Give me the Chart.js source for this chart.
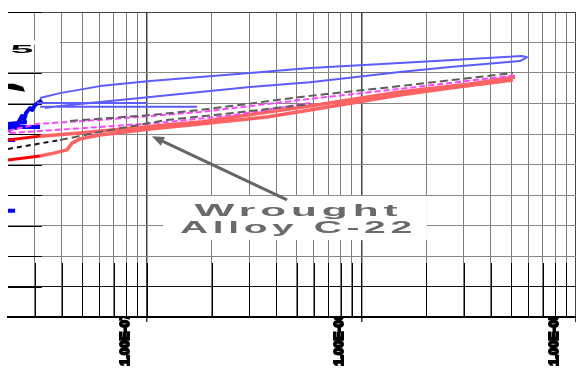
<!DOCTYPE html>
<html>
<head>
<meta charset="utf-8">
<script src="https://cdn.jsdelivr.net/npm/chart.js@4.4.1/dist/chart.umd.min.js"></script>
<style>
  html, body { margin: 0; padding: 0; background: #fff; }
  #wrap { width: 576px; height: 373px; }
</style>
</head>
<body>
<div id="wrap"><canvas id="chart" width="576" height="373"></canvas></div>
<script>
'use strict';

// x = log10(current density), y = potential (V); null breaks a line
const X_MIN = -7.648;
const X_MAX = -5;
const decadeTicks = [-7, -6, -5];
const decadeLabels = ['1.00E-07', '1.00E-06', '1.00E-05'];

const blueLoopLogI = [-7.499, -7.406, -7.219, -6.986, -6.753, -6.520, -6.240, -5.821, -5.494, -5.252, -5.228,
  -5.261, -5.587, -5.821, -6.240, -6.520, -6.753, -6.986, -7.219, -7.406, -7.476,
  null, -7.513, -7.000, null, -7.499, -6.767];
const blueLoopE = [0.718, 0.734, 0.757, 0.774, 0.787, 0.800, 0.816, 0.833, 0.846, 0.856, 0.852,
  0.839, 0.820, 0.803, 0.770, 0.754, 0.738, 0.721, 0.705, 0.692, 0.685,
  null, 0.702, 0.702, null, 0.689, 0.689];

const blueDarkLogI = [-7.648, -7.625, -7.612, -7.601, -7.583, -7.572, -7.564, -7.545, -7.535, -7.522, -7.490,
  null, -7.648, -7.499, null, -7.648, -7.560, null, -7.648, -7.615, null, -7.648, -7.615];
const blueDarkE = [0.607, 0.630, 0.620, 0.636, 0.659, 0.648, 0.669, 0.685, 0.679, 0.695, 0.711,
  null, 0.623, 0.623, null, 0.633, 0.639, null, 0.580, 0.580, null, 0.348, 0.348];

const redDarkLogI = [-7.648, -7.499, null, -7.648, -7.499];
const redDarkE = [0.515, 0.528, null, 0.580, 0.593];

const redLogI = [-7.499, -7.429, -7.373, -7.350, -7.312, -7.219, -7.093, -6.986, -6.753, -6.441, -6.240, -5.821, -5.587, -5.294,
  null, -7.499, -7.312, -7.065, -6.753, -6.599, -6.240, -5.821, -5.494, -5.284];
const redE = [0.528, 0.538, 0.548, 0.570, 0.584, 0.597, 0.607, 0.616, 0.633, 0.656, 0.679, 0.728, 0.751, 0.777,
  null, 0.593, 0.603, 0.620, 0.639, 0.656, 0.692, 0.738, 0.764, 0.787];

const magentaLogI = [-7.648, -7.513, -7.219, -6.753, -6.240, -5.821, -5.275,
  null, -7.639, -7.499, -7.219, -6.907, -6.599, -6.240];
const magentaE = [0.610, 0.633, 0.646, 0.672, 0.715, 0.748, 0.793,
  null, 0.603, 0.610, 0.623, 0.639, 0.662, 0.702];

const grayLogI = [-7.359, -6.986, -6.753, -6.240, -5.821, -5.294,
  null, -7.406, -7.219, -6.907, -6.599, -6.240];
const grayE = [0.643, 0.662, 0.679, 0.725, 0.757, 0.800,
  null, 0.580, 0.607, 0.646, 0.669, 0.698];

const blackLogI = [-7.648, -7.490, -7.406];
const blackE = [0.551, 0.570, 0.580];

// annotation, in data units
const noteLines = ['Wrought', 'Alloy C-22'];
const noteCenterLogI = -6.305;
const noteLineE = [0.348, 0.290];
const noteBoxLogI = [-6.925, -5.695];
const noteBoxE = [0.397, 0.252];
const arrowTip = [-6.977, 0.593];
const arrowTail = [-6.347, 0.384];

function series(logI, volts) {
  return logI.map((x, i) => ({ x, y: volts[i] }));
}

function isDecade(v) {
  return Math.abs(v - Math.round(v)) < 1e-6;
}

function lineSet(logI, volts, color, width, dash) {
  return {
    data: series(logI, volts),
    borderColor: color,
    borderWidth: width,
    borderDash: dash || [],
    pointRadius: 0,
    tension: 0,
    spanGaps: false,
    borderJoinStyle: 'round',
  };
}

function logGridTicks(scale) {
  const ticks = [];
  for (let e = -8; e <= -5; e++) {
    for (let k = 1; k <= 9; k++) {
      const v = e + Math.log10(k);
      if (v >= scale.min - 1e-9 && v <= scale.max + 1e-9) ticks.push({ value: v });
    }
  }
  scale.ticks = ticks;
}

function drawStretched(ctx, text, cx, cy, width, font, spacing) {
  ctx.save();
  ctx.font = font;
  ctx.letterSpacing = spacing + 'px';
  const w = ctx.measureText(text).width - spacing;
  ctx.translate(cx, cy);
  ctx.scale(width / w, 1);
  ctx.textAlign = 'left';
  ctx.textBaseline = 'middle';
  ctx.fillText(text, -w / 2, 0);
  ctx.restore();
}

const decorations = {
  id: 'decorations',
  beforeDatasetsDraw(chart) {
    const { ctx, chartArea, scales: { x, y } } = chart;
    ctx.save();
    // dark stubs on the left end of the horizontal grid
    ctx.strokeStyle = '#000';
    ctx.lineWidth = 1;
    const stubEnd = x.getPixelForValue(-7.49);
    for (const t of y.ticks) {
      if (Math.abs(t.value - 0.9) < 1e-6) continue;
      const py = Math.round(y.getPixelForValue(t.value)) + 0.5;
      ctx.beginPath();
      ctx.moveTo(chartArea.left, py);
      ctx.lineTo(stubEnd, py);
      ctx.stroke();
    }
    // darker verticals along the bottom band
    const bandTop = y.getPixelForValue(0.177);
    for (const t of x.ticks) {
      const px = Math.round(x.getPixelForValue(t.value)) + 0.5;
      ctx.beginPath();
      ctx.moveTo(px, bandTop);
      ctx.lineTo(px, chartArea.bottom);
      ctx.stroke();
    }
    // gap in the 0.9 line behind the cropped label
    ctx.fillStyle = '#fff';
    const py9 = y.getPixelForValue(0.9);
    ctx.fillRect(chartArea.left, py9 - 2, x.getPixelForValue(-7.406) - chartArea.left, 4);
    // white box behind the annotation
    const bx0 = x.getPixelForValue(noteBoxLogI[0]);
    const bx1 = x.getPixelForValue(noteBoxLogI[1]);
    const by0 = y.getPixelForValue(noteBoxE[0]);
    const by1 = y.getPixelForValue(noteBoxE[1]);
    ctx.fillRect(bx0, by0, bx1 - bx0, by1 - by0);
    ctx.restore();
  },
  afterDatasetsDraw(chart) {
    const { ctx, chartArea, scales: { x, y } } = chart;
    ctx.save();
    ctx.fillStyle = '#6a6a6a';
    const cx = x.getPixelForValue(noteCenterLogI);
    drawStretched(ctx, noteLines[0], cx, y.getPixelForValue(noteLineE[0]), 203, 'bold 17px "Liberation Sans", Arial', 2);
    drawStretched(ctx, noteLines[1], cx, y.getPixelForValue(noteLineE[1]), 232, 'bold 17px "Liberation Sans", Arial', 2);

    // arrow
    const tx = x.getPixelForValue(arrowTip[0]);
    const ty = y.getPixelForValue(arrowTip[1]);
    const sx = x.getPixelForValue(arrowTail[0]);
    const sy = y.getPixelForValue(arrowTail[1]);
    const ang = Math.atan2(ty - sy, tx - sx);
    const head = 13;
    ctx.strokeStyle = '#666';
    ctx.fillStyle = '#666';
    ctx.lineWidth = 3;
    ctx.beginPath();
    ctx.moveTo(sx, sy);
    ctx.lineTo(tx - Math.cos(ang) * head * 0.8, ty - Math.sin(ang) * head * 0.8);
    ctx.stroke();
    ctx.beginPath();
    ctx.moveTo(tx, ty);
    ctx.lineTo(tx - head * Math.cos(ang - 0.38), ty - head * Math.sin(ang - 0.38));
    ctx.lineTo(tx - head * Math.cos(ang + 0.38), ty - head * Math.sin(ang + 0.38));
    ctx.closePath();
    ctx.fill();

    // cropped y-axis label pieces
    ctx.fillStyle = '#000';
    drawStretched(ctx, '5', chartArea.left + 14, y.getPixelForValue(0.877), 23, 'bold 11px "Liberation Sans", Arial', 0);
    const wy = y.getPixelForValue(0.755);
    ctx.beginPath();
    ctx.moveTo(chartArea.left, wy - 3);
    ctx.lineTo(chartArea.left + 6, wy - 3);
    ctx.lineTo(chartArea.left + 15, wy);
    ctx.lineTo(chartArea.left + 17, wy + 5);
    ctx.lineTo(chartArea.left, wy + 2);
    ctx.closePath();
    ctx.fill();
    ctx.restore();
  },
};

const ctx = document.getElementById('chart').getContext('2d');
new Chart(ctx, {
  type: 'line',
  data: {
    datasets: [
      lineSet(grayLogI, grayE, '#5e5e5e', 2, [8, 4]),
      lineSet(blackLogI, blackE, '#111', 2, [5, 4]),
      lineSet(magentaLogI, magentaE, '#ff45ff', 2, [6, 3]),
      lineSet(redLogI, redE, '#ff6262', 3.5),
      lineSet(redDarkLogI, redDarkE, '#ff0000', 3),
      lineSet(blueLoopLogI, blueLoopE, '#5c5cff', 2),
      lineSet(blueDarkLogI, blueDarkE, '#0000ff', 4),
    ],
  },
  options: {
    responsive: false,
    animation: false,
    layout: { padding: { left: 8, top: 12, right: 0, bottom: 0 } },
    plugins: { legend: { display: false }, tooltip: { enabled: false } },
    scales: {
      x: {
        type: 'linear',
        min: X_MIN,
        max: X_MAX,
        afterBuildTicks: logGridTicks,
        afterFit: s => { s.height = 56; s.paddingLeft = 0; s.paddingRight = 0; },
        border: { color: '#000', width: 2 },
        grid: {
          color: c => (isDecade(c.tick.value) ? '#444' : '#7d7d7d'),
          lineWidth: c => (isDecade(c.tick.value) ? 1.5 : 1),
          tickColor: c => (isDecade(c.tick.value) ? '#333' : 'rgba(0,0,0,0)'),
          tickLength: 5,
        },
        ticks: {
          autoSkip: false,
          minRotation: 90,
          maxRotation: 90,
          padding: -9,
          labelOffset: -22,
          color: '#000',
          textStrokeColor: '#000',
          textStrokeWidth: 2,
          font: { family: '"Liberation Sans", Arial', size: 13, weight: 'bold' },
          callback: v => {
            const i = decadeTicks.findIndex(d => Math.abs(d - v) < 1e-6);
            return i >= 0 ? decadeLabels[i] : '';
          },
        },
      },
      y: {
        min: 0,
        max: 1,
        afterFit: s => { s.width = 0; },
        border: { display: false },
        grid: {
          color: c => {
            const v = c.tick.value;
            if (Math.abs(v - 1) < 1e-6) return '#444';
            if (Math.abs(v - 0.1) < 1e-6) return '#111';
            return '#858585';
          },
          drawTicks: false,
        },
        ticks: { display: false, stepSize: 0.1 },
      },
    },
  },
  plugins: [decorations],
});
</script>
</body>
</html>
